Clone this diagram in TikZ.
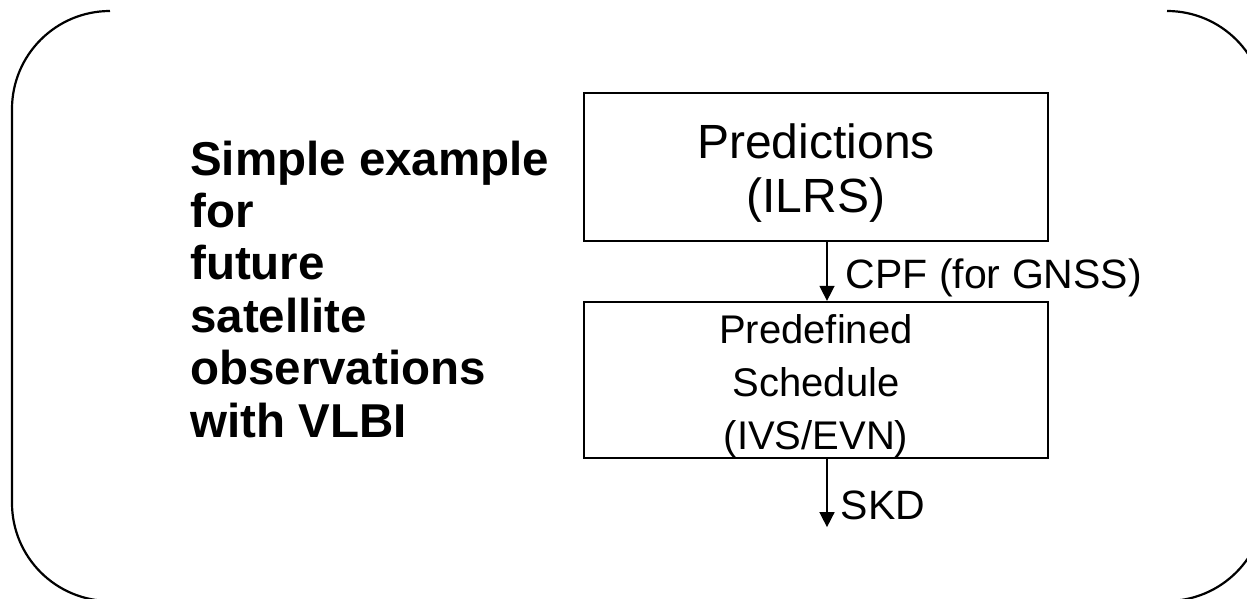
\documentclass[tikz,border=0pt]{standalone}
\usepackage{fontspec}
\setmainfont{Liberation Sans}
\usetikzlibrary{arrows.meta,calc}

\begin{document}
\begin{tikzpicture}
   [x=1pt,y=-1pt,
    frame/.style={draw,line width=2.2pt},
    box/.style={rectangle,draw,line width=2pt,inner sep=0pt,align=center,
      minimum width=464pt,minimum height=148pt},
    flow/.style={-{Triangle[width=15pt,length=15pt]},line width=1.5pt},
    lbl/.style={anchor=west,inner sep=0pt,font=\fontsize{41}{49}\selectfont}]

\useasboundingbox (0,0) rectangle (1247,598);
\clip (0,0) rectangle (1247,598);

% the two brackets round the slide
\draw [frame] (110,11) arc[start angle=90,end angle=180,radius=98pt] -- (12,503)
  arc[start angle=180,end angle=270,radius=98pt];
\draw [frame] (1167,11) arc[start angle=90,end angle=0,radius=98pt] -- (1265,503)
  arc[start angle=0,end angle=-90,radius=98pt];

\node [anchor=north west,inner sep=0pt,align=left,
  font=\fontsize{47.5}{52.4}\selectfont\bfseries] (title) at (190,140.5) {
Simple example\\for\\future\\satellite\\observations\\with VLBI};

\node [box,font=\fontsize{48}{54}\selectfont] (pred) at (816,167) {
\rule{0pt}{47pt}Predictions\\(ILRS)};
\node [box,font=\fontsize{40}{53}\selectfont] (sched) at (816,380) {
\rule{0pt}{42pt}Predefined\\Schedule\\(IVS/EVN)};
\coordinate (skd) at ($(sched.south)+(11,68)$);

\draw [flow] ([xshift=11pt]pred.south) -- ([xshift=11pt]sched.north)
  node [lbl,midway,xshift=18pt,yshift=-6pt] {CPF (for GNSS)};
\draw [flow] ([xshift=11pt]sched.south) -- (skd)
  node [lbl,pos=0.68,xshift=13pt] {SKD};
\end{tikzpicture}
\end{document}
